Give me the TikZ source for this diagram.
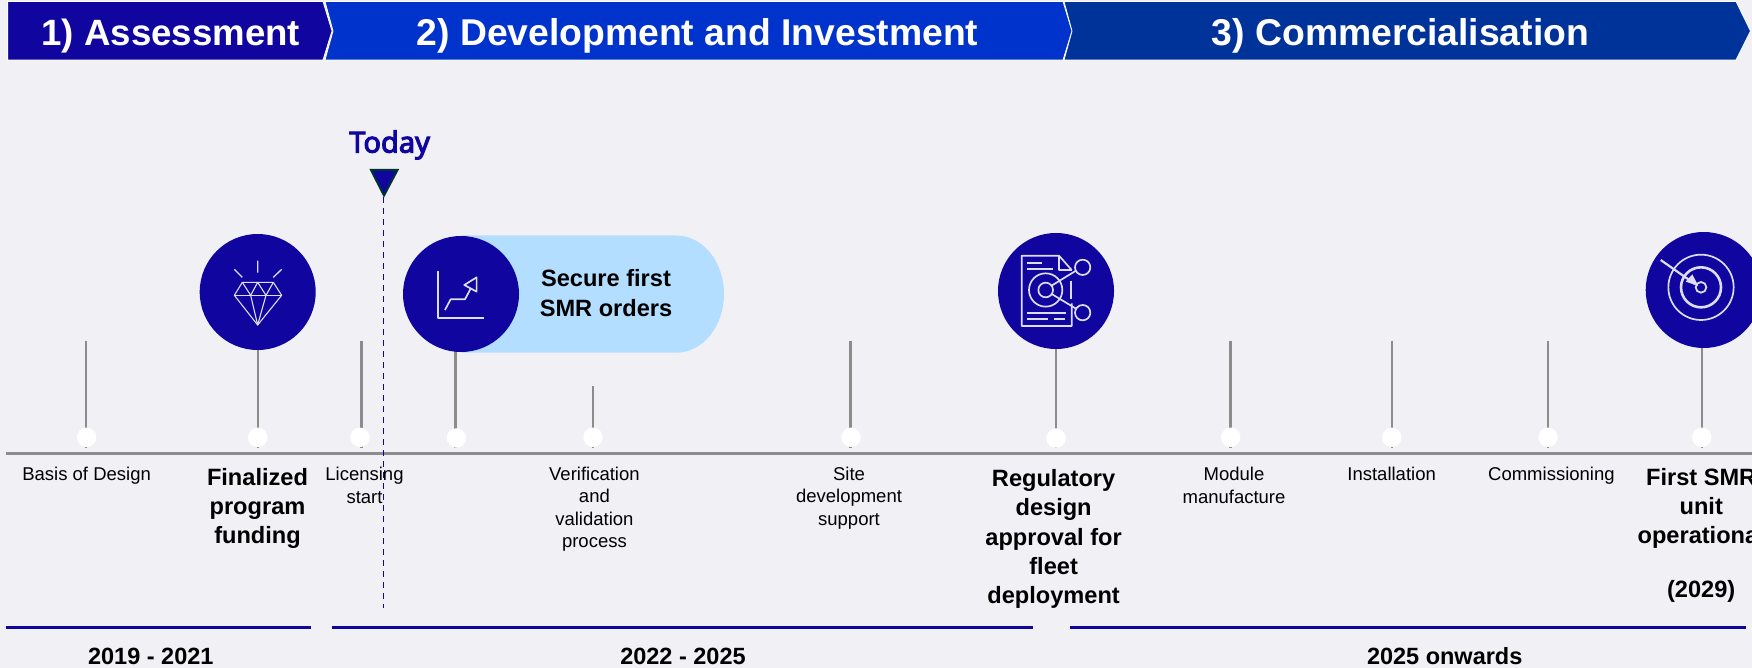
\documentclass[tikz,border=0pt]{standalone}
\usepackage{fontspec}
\setmainfont{Liberation Sans}
\newfontfamily\todayfont[FakeBold=3.6]{Noto Sans}
\usetikzlibrary{backgrounds}
\definecolor{bgc}{HTML}{F0F0F5}
\definecolor{navy}{HTML}{10069F}
\definecolor{royal}{HTML}{0033CC}
\definecolor{cobalt}{HTML}{003399}
\definecolor{pillc}{HTML}{B3DEFF}
\definecolor{axisc}{HTML}{8C8C8C}
\definecolor{iconc}{HTML}{DCDCF2}
\tikzset{
  hdr/.style={draw=white,line width=.8pt},
  hdrtext/.style={text=white,font=\fontsize{37.3}{40}\selectfont\bfseries,inner sep=0pt},
  small/.style={font=\fontsize{18.5}{22.5}\selectfont,align=center,inner sep=0pt,text=black},
  big/.style={font=\fontsize{23.6}{29.2}\selectfont\bfseries,align=center,inner sep=0pt,text=black},
  period/.style={font=\fontsize{23.5}{28}\selectfont\bfseries,inner sep=0pt,text=black},
  badge/.style={circle,fill=navy,minimum size=116pt,inner sep=0pt},
  dot/.style={circle,fill=white,minimum size=19.5pt,inner sep=0pt},
  stem/.style={draw=axisc,line width=2.4pt},
  band/.style={draw=navy,line width=2.6pt},
  icon/.style={draw=iconc,line width=1.1pt,line join=round},
  iconb/.style={draw=iconc,line width=1.7pt,line join=round}
}
\begin{document}
\begin{tikzpicture}[x=1pt,y=-1pt]
\useasboundingbox (0,0) rectangle (1752,668);
\clip (0,0) rectangle (1752,668);
% pill
\fill[pillc] (461,235.5) -- (676,235.5) .. controls (703,235.5) and (724,262) .. (724,294) .. controls (724,326) and (703,352.7) .. (676,352.7) -- (461,352.7) -- cycle;
% headers
\path[hdr,fill=navy] (7.6,1.5) -- (323,1.5) -- (332,31) -- (323,60) -- (7.6,60) -- cycle;
\path[hdr,fill=royal] (325,1.5) -- (1063,1.5) -- (1072,31) -- (1063,60) -- (325,60) -- (333,31) -- cycle;
\path[hdr,fill=cobalt] (1064,1.5) -- (1736,1.5) -- (1750.5,31) -- (1736,60) -- (1064,60) -- (1072,31) -- cycle;
\node[hdrtext,font=\fontsize{36.6}{40}\selectfont\bfseries] (h1) at (170.8,36) {1) Assessment};
\node[hdrtext] (h2) at (697.5,36) {2) Development and Investment};
\node[hdrtext] (h3) at (1400.5,36) {3) Commercialisation};
% axis
\coordinate (axl) at (6,453);
\coordinate (axr) at (1752,453);
\draw[axisc,line width=3pt] (axl) -- (axr);
% badges
\node[badge] (b1) at (257.7,292) {};
\node[badge] (b2) at (461,294) {};
\node[badge] (b3) at (1056,291) {};
\node[badge] (b4) at (1703.7,290) {};
% dots
\node[dot] (d1) at (86.6,437.3) {};
\node[dot] (d2) at (257.7,437.3) {};
\node[dot] (d3) at (360,437.3) {};
\node[dot] (d4) at (456.4,438) {};
\node[dot] (d5) at (593,437.3) {};
\node[dot] (d6) at (851,437.3) {};
\node[dot] (d7) at (1056,438) {};
\node[dot] (d8) at (1230.7,437.3) {};
\node[dot] (d9) at (1391.7,437.3) {};
\node[dot] (d10) at (1548,437.3) {};
\node[dot] (d11) at (1701.7,437.3) {};
\coordinate (t1) at (86.2,340.5);
\coordinate (t3) at (361.5,340.5);
\coordinate (t5) at (593,386);
\coordinate (t6) at (850.5,340.5);
\coordinate (t8) at (1230.5,340.5);
\coordinate (t9) at (1391.7,340.5);
\coordinate (t10) at (1548,340.5);
\begin{scope}[on background layer]
  \fill[bgc] (0,0) rectangle (1752,668);
  \draw[stem] (t1) -- (86.2,447.5);
  \draw[stem] (b1.south) -- (257.7,447.5);
  \draw[stem] (t3) -- (361.5,447.5);
  \draw[stem] (455.5,348) -- (455.5,447.5);
  \draw[stem] (t5) -- (593,447.5);
  \draw[stem] (t6) -- (850.5,447.5);
  \draw[stem] (b3.south) -- (1056,447.5);
  \draw[stem] (t8) -- (1230.5,447.5);
  \draw[stem] (t9) -- (1391.7,447.5);
  \draw[stem] (t10) -- (1548,447.5);
  \draw[stem] (1701.7,346) -- (1701.7,447.5);
\end{scope}
% today
\node[font=\todayfont\fontsize{29}{32}\selectfont,text=navy,inner sep=0pt] (today) at (389.6,145) {Today};
\path[fill=navy,draw=black!60!teal,line width=2pt,line join=miter] (371,170) -- (397.5,170) -- (384,195.5) -- cycle;
\coordinate (tapex) at (383.5,197);
\coordinate (tend) at (383.5,608);
\draw[navy,line width=1.1pt,dash pattern=on 6pt off 5pt] (tapex) -- (tend);
% pill text
\node[big] (pilltext) at (606,293) {Secure first\\SMR orders};
% labels
\node[small] (l1) at (86.6,475.5) {Basis of Design};
\node[big] (l2) at (257.5,508.5) {Finalized\\program\\funding};
\node[small] (l3) at (364.5,485.5) {Licensing\\start};
\node[small] (l5) at (594.4,509) {Verification\\and\\validation\\process};
\node[small] (l6) at (849,498) {Site\\development\\support};
\node[big] (l7) at (1053.6,539) {Regulatory\\design\\approval for\\fleet\\deployment};
\node[small] (l8) at (1234,485.5) {Module\\manufacture};
\node[small] (l9) at (1391.6,473.5) {Installation};
\node[small] (l10) at (1551.4,475.5) {Commissioning};
\node[big] (l11) at (1701.2,535.2) {First SMR\\unit\\operational\\[-5pt] \\(2029)};
% bands
\coordinate (p1a) at (5.6,627.7); \coordinate (p1b) at (311,627.7);
\coordinate (p2a) at (332,627.7); \coordinate (p2b) at (1033,627.7);
\coordinate (p3a) at (1070,627.7); \coordinate (p3b) at (1746,627.7);
\draw[band] (p1a) -- (p1b);
\draw[band] (p2a) -- (p2b);
\draw[band] (p3a) -- (p3b);
\node[period] (y1) at (150.8,656) {2019 - 2021};
\node[period] (y2) at (683,656) {2022 - 2025};
\node[period] (y3) at (1444.7,656) {2025 onwards};
% diamond icon
\begin{scope}[shift={(180,210)},x=.3333pt,y=-.3333pt]
  \draw[icon,line width=1.3pt] (233,152)--(233,188) (163,178)--(187,202) (305,178)--(280,202);
  \draw[icon] (187,217)--(280,217)--(305,256)--(233,345)--(163,256)--cycle;
  \draw[icon] (163,256)--(305,256);
  \draw[icon] (187,217)--(212,256)--(233,217)--(258,256)--(280,217);
  \draw[icon] (212,256)--(233,345)--(258,256);
\end{scope}
% chart icon
\begin{scope}[shift={(180,210)},x=.3333pt,y=-.3333pt]
  \draw[iconb] (775,183)--(775,323)--(912,323);
  \draw[iconb] (795,300)--(812,268)--(855,268)--(872,236);
  \draw[iconb] (853,225)--(890,202)--(890,245)--cycle;
\end{scope}
% document icon
\begin{scope}[shift={(980,210)},x=.3333pt,y=-.3333pt]
  \draw[iconb] (275,180)--(237,137)--(125,137)--(125,348)--(275,348)--(275,280);
  \draw[iconb] (237,137)--(237,180)--(275,180);
  \draw[iconb] (272,212)--(272,268);
  \draw[iconb] (142,158)--(187,158) (142,177)--(220,177) (142,310)--(258,310) (142,326)--(205,326) (222,326)--(255,326);
  \draw[iconb] (197,240) circle[radius=50];
  \draw[iconb] (197,240) circle[radius=22];
  \draw[iconb] (308,172) circle[radius=23];
  \draw[iconb] (308,308) circle[radius=23];
  \draw[iconb] (213,228)--(288,182) (215,252)--(288,296);
\end{scope}
% target icon
\begin{scope}[shift={(1620,210)},x=.3333pt,y=-.3333pt]
  \draw[iconb] (243,232) circle[radius=98];
  \draw[iconc,line width=2.6pt] (243,232) circle[radius=60];
  \draw[iconc,line width=1.8pt] (243,232) circle[radius=16];
  \draw[iconc,line width=2.2pt] (122,150)--(225,222);
  \fill[iconc] (235,228)--(197,215)--(217,193)--cycle;
\end{scope}
\end{tikzpicture}
\end{document}
